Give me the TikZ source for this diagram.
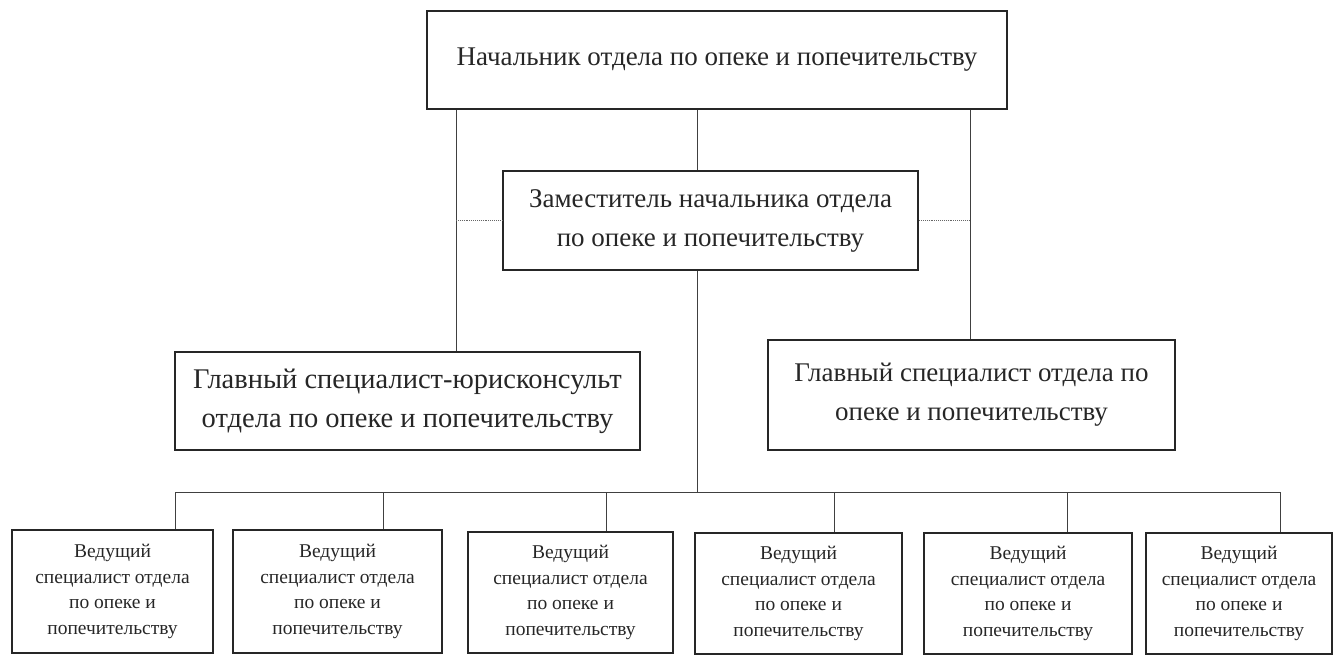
\documentclass[tikz,border=0pt]{standalone}
\usepackage{fontspec}
\setmainfont{Liberation Serif}
\usepackage{tikz}
\usetikzlibrary{positioning}

\begin{document}
\begin{tikzpicture}[
  x=1pt, y=-1pt,
  line join=miter,
  bigbox/.style={
    draw=black!85,
    line width=2.2pt,
    align=center,
    inner sep=0pt,
    text=black!85,
    font=\fontsize{27}{39}\selectfont
  },
  smallbox/.style={
    draw=black!85,
    line width=2.2pt,
    align=center,
    inner sep=0pt,
    text=black!85,
    minimum width=205pt,
    minimum height=123pt,
    font=\fontsize{19.5}{25.5}\selectfont
  },
  link/.style={draw=black!75, line width=0.9pt},
  dotlink/.style={draw=black!60, line width=0.9pt, densely dotted}
]
\useasboundingbox (0,0) rectangle (1337,656);

% ================= Upper levels =================
\node[bigbox, minimum width=580pt, minimum height=98pt] (head) at (717,60)
  {Начальник отдела по опеке и попечительству};

\node[bigbox, minimum width=415pt, minimum height=99pt] (deputy) at (710.5,220.5)
  {Заместитель начальника отдела\\по опеке и попечительству};

\node[bigbox, minimum width=465pt, minimum height=98pt,
      font=\fontsize{28.5}{39}\selectfont] (lawyer) at (407.5,401)
  {Главный специалист-юрисконсульт\\отдела по опеке и попечительству};

\node[bigbox, minimum width=407pt, minimum height=110pt] (chief) at (971.5,395)
  {Главный специалист отдела по\\опеке и попечительству};

% line positions
\coordinate (left_line) at (456,0);
\coordinate (mid_line) at (697,0);
\coordinate (right_line) at (970,0);
\coordinate (bus) at (0,492);

\draw[link] (head.south -| left_line) -- (lawyer.north -| left_line);
\draw[link] (head.south -| mid_line) -- (deputy.north -| mid_line);
\draw[link] (head.south -| right_line) -- (chief.north -| right_line);

\draw[dotlink] (left_line |- deputy.west) -- (deputy.west);
\draw[dotlink] (deputy.east) -- (right_line |- deputy.east);

% ================= Leading specialists =================
\node[smallbox, minimum width=201pt] (lead_a) at (112.5,591.5)
  {Ведущий\\специалист отдела\\по опеке и\\попечительству};
\node[smallbox, minimum width=209pt] (lead_b) at (337.5,591.5)
  {Ведущий\\специалист отдела\\по опеке и\\попечительству};
\node[smallbox, minimum width=205pt, minimum height=121pt] (lead_c) at (570.5,592.5)
  {Ведущий\\специалист отдела\\по опеке и\\попечительству};
\node[smallbox, minimum width=207pt, minimum height=121pt] (lead_d) at (798.5,593.5)
  {Ведущий\\специалист отдела\\по опеке и\\попечительству};
\node[smallbox, minimum width=208pt, minimum height=121pt] (lead_e) at (1028,593.5)
  {Ведущий\\специалист отдела\\по опеке и\\попечительству};
\node[smallbox, minimum width=186pt, minimum height=121pt] (lead_f) at (1239,593.5)
  {Ведущий\\специалист отдела\\по опеке и\\попечительству};

\coordinate (drop_a) at (175,0);
\coordinate (drop_b) at (383,0);
\coordinate (drop_c) at (606,0);
\coordinate (drop_d) at (834,0);
\coordinate (drop_e) at (1067,0);
\coordinate (drop_f) at (1280,0);

\draw[link] (deputy.south -| mid_line) -- (bus -| mid_line);
\draw[link] (bus -| drop_a) -- (bus -| drop_f);

\draw[link] (bus -| drop_a) -- (lead_a.north -| drop_a);
\draw[link] (bus -| drop_b) -- (lead_b.north -| drop_b);
\draw[link] (bus -| drop_c) -- (lead_c.north -| drop_c);
\draw[link] (bus -| drop_d) -- (lead_d.north -| drop_d);
\draw[link] (bus -| drop_e) -- (lead_e.north -| drop_e);
\draw[link] (bus -| drop_f) -- (lead_f.north -| drop_f);

\end{tikzpicture}
\end{document}
